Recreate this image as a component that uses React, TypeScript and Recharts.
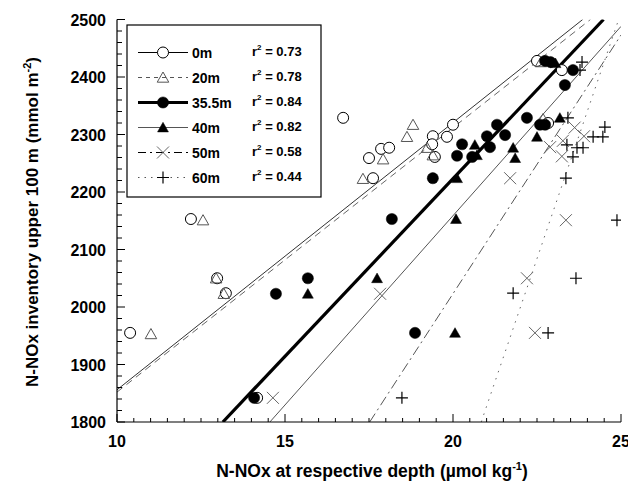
import React from 'react';
import { ComposedChart, Scatter, Line, XAxis, YAxis } from 'recharts';

const FONT = '"Liberation Sans", Arial, Helvetica, sans-serif';

type P = { x: number; y: number };

const series0m: P[] = [
  { x: 10.39, y: 1955 }, { x: 12.2, y: 2153 }, { x: 12.98, y: 2050 }, { x: 13.24, y: 2024 },
  { x: 14.17, y: 1842 }, { x: 16.73, y: 2329 }, { x: 17.5, y: 2259 }, { x: 17.62, y: 2224 },
  { x: 17.86, y: 2275 }, { x: 18.1, y: 2277 }, { x: 19.4, y: 2297 }, { x: 19.82, y: 2296 },
  { x: 20.0, y: 2317 }, { x: 19.38, y: 2283 }, { x: 19.46, y: 2261 }, { x: 22.5, y: 2428 },
  { x: 23.24, y: 2412 }, { x: 22.83, y: 2320 },
];
const series20m: P[] = [
  { x: 11.01, y: 1953 }, { x: 12.56, y: 2151 }, { x: 12.95, y: 2050 }, { x: 13.18, y: 2023 },
  { x: 17.32, y: 2223 }, { x: 17.92, y: 2257 }, { x: 18.63, y: 2296 }, { x: 18.81, y: 2317 },
  { x: 19.23, y: 2277 }, { x: 19.4, y: 2264 }, { x: 22.68, y: 2327 }, { x: 22.62, y: 2426 },
];
const series35m: P[] = [
  { x: 14.08, y: 1842 }, { x: 14.73, y: 2023 }, { x: 15.68, y: 2050 }, { x: 18.18, y: 2153 },
  { x: 18.87, y: 1955 }, { x: 19.4, y: 2224 }, { x: 20.27, y: 2283 }, { x: 20.12, y: 2263 },
  { x: 20.57, y: 2261 }, { x: 21.01, y: 2297 }, { x: 21.1, y: 2278 }, { x: 21.31, y: 2317 },
  { x: 21.55, y: 2299 }, { x: 22.2, y: 2329 }, { x: 22.59, y: 2317 }, { x: 22.74, y: 2317 },
  { x: 22.74, y: 2428 }, { x: 22.9, y: 2426 }, { x: 23.57, y: 2412 }, { x: 23.33, y: 2386 },
];
const series40m: P[] = [
  { x: 15.68, y: 2023 }, { x: 17.74, y: 2050 }, { x: 20.06, y: 1955 }, { x: 20.09, y: 2153 },
  { x: 20.12, y: 2224 }, { x: 20.65, y: 2282 }, { x: 20.71, y: 2264 }, { x: 21.79, y: 2277 },
  { x: 21.85, y: 2259 }, { x: 22.5, y: 2296 }, { x: 23.18, y: 2329 }, { x: 23.05, y: 2424 },
];
const series50m: P[] = [
  { x: 14.64, y: 1842 }, { x: 17.83, y: 2023 }, { x: 21.7, y: 2224 }, { x: 22.2, y: 2050 },
  { x: 22.44, y: 1955 }, { x: 23.36, y: 2151 }, { x: 22.89, y: 2278 }, { x: 23.27, y: 2289 },
  { x: 23.24, y: 2262 }, { x: 23.62, y: 2312 }, { x: 23.9, y: 2297 },
];
const series60m: P[] = [
  { x: 18.48, y: 1842 }, { x: 21.79, y: 2024 }, { x: 22.83, y: 1955 }, { x: 23.66, y: 2050 },
  { x: 23.36, y: 2224 }, { x: 24.88, y: 2151 }, { x: 23.42, y: 2329 }, { x: 23.39, y: 2282 },
  { x: 23.69, y: 2277 }, { x: 23.87, y: 2277 }, { x: 23.57, y: 2261 }, { x: 24.17, y: 2296 },
  { x: 24.46, y: 2296 }, { x: 24.52, y: 2313 }, { x: 23.84, y: 2426 }, { x: 23.78, y: 2412 },
];

// regression lines (end points)
const fit0m: P[] = [{ x: 10, y: 1856 }, { x: 23.86, y: 2500 }];
const fit20m: P[] = [{ x: 10, y: 1852 }, { x: 24.09, y: 2500 }];
const fit35m: P[] = [{ x: 13.15, y: 1800 }, { x: 24.48, y: 2500 }];
const fit40m: P[] = [{ x: 14.55, y: 1800 }, { x: 25, y: 2488 }];
const fit50m: P[] = [{ x: 17.52, y: 1800 }, { x: 25, y: 2473 }];
const fit60m: P[] = [{ x: 20.84, y: 1800 }, { x: 24.93, y: 2500 }];

const legendLabels = ['0m', '20m', '35.5m', '40m', '50m', '60m'];
const legendR2 = ['0.73', '0.78', '0.84', '0.82', '0.58', '0.44'];

const xMajor = [10, 15, 20, 25];
const yMajor = [1800, 1900, 2000, 2100, 2200, 2300, 2400, 2500];
const xMinorStep = 0.5;
const yMinorStep = 20;

const xAll: number[] = [];
for (let v = 10; v <= 25.0001; v += xMinorStep) xAll.push(Math.round(v * 10) / 10);
const yAll: number[] = [];
for (let v = 1800; v <= 2500; v += yMinorStep) yAll.push(v);

// ---- marker shapes ----
const triPts = (cx: number, cy: number, h: number) =>
  `${cx},${cy - h} ${cx + h * 1.05},${cy + h * 0.85} ${cx - h * 1.05},${cy + h * 0.85}`;

const OpenCircle = (p: any) =>
  p.cx == null ? <g /> : <circle cx={p.cx} cy={p.cy} r={5.5} fill="#fff" stroke="#000" strokeWidth={1} />;
const OpenTri = (p: any) =>
  p.cx == null ? <g /> : <polygon points={triPts(p.cx, p.cy, 5.5)} fill="none" stroke="#555" strokeWidth={1} />;
const FilledCircle = (p: any) =>
  p.cx == null ? <g /> : <circle cx={p.cx} cy={p.cy} r={5.6} fill="#000" stroke="#000" strokeWidth={0.5} />;
const FilledTri = (p: any) =>
  p.cx == null ? <g /> : <polygon points={triPts(p.cx, p.cy, 5.2)} fill="#000" stroke="#000" strokeWidth={0.5} />;
const Cross = (p: any) => {
  if (p.cx == null) return <g />;
  const { cx, cy } = p;
  const s = 6;
  return (
    <path d={`M${cx - s},${cy - s}L${cx + s},${cy + s}M${cx - s},${cy + s}L${cx + s},${cy - s}`} stroke="#666" strokeWidth={1} fill="none" />
  );
};
const Plus = (p: any) => {
  if (p.cx == null) return <g />;
  const { cx, cy } = p;
  const s = 6;
  return (
    <path d={`M${cx - s},${cy}L${cx + s},${cy}M${cx},${cy - s}L${cx},${cy + s}`} stroke="#000" strokeWidth={1.2} fill="none" />
  );
};

// ---- ticks ----
const BottomTick = (props: any) => {
  const { x, y, payload } = props;
  const v = payload.value;
  const major = xMajor.includes(v);
  return (
    <g>
      <line x1={x} y1={y} x2={x} y2={y - (major ? 8 : 4)} stroke="#000" strokeWidth={1} />
      {major && (
        <text x={x} y={y + 25} textAnchor="middle" fontFamily={FONT} fontWeight="bold" fontSize={16} fill="#000">
          {v}
        </text>
      )}
    </g>
  );
};
const LeftTick = (props: any) => {
  const { x, y, payload } = props;
  const v = payload.value;
  const major = yMajor.includes(v);
  return (
    <g>
      <line x1={x} y1={y} x2={x + (major ? 8 : 5)} y2={y} stroke="#000" strokeWidth={1} />
      {major && (
        <text x={x - 11} y={y + 6} textAnchor="end" fontFamily={FONT} fontWeight="bold" fontSize={16} fill="#000">
          {v}
        </text>
      )}
    </g>
  );
};
const TopTick = (props: any) => {
  const { x, y } = props;
  return <line x1={x} y1={y} x2={x} y2={y + 6} stroke="#000" strokeWidth={1} />;
};
const RightTick = (props: any) => {
  const { x, y } = props;
  return <line x1={x} y1={y} x2={x - 6} y2={y} stroke="#000" strokeWidth={1} />;
};

const W = 628;
const H = 476;

const legendStyles = [
  { stroke: '#000', width: 1, dash: undefined as string | undefined, shape: OpenCircle },
  { stroke: '#555', width: 1, dash: '4 4', shape: OpenTri },
  { stroke: '#000', width: 3, dash: undefined, shape: FilledCircle },
  { stroke: '#555', width: 1.2, dash: undefined, shape: FilledTri },
  { stroke: '#000', width: 1, dash: '8 4 2 4', shape: Cross },
  { stroke: '#555', width: 1, dash: '1.5 5', shape: Plus },
];

const Overlay = () => {
  const rowY0 = 44.5;
  const step = 25;
  return (
    <svg width={W} height={H} style={{ position: 'absolute', left: 0, top: 0, pointerEvents: 'none' }}>
      <rect x={119} y={17} width={194} height={172} fill="#fff" stroke="#000" strokeWidth={1.2} />
      {legendLabels.map((lab, i) => {
        const cy = rowY0 + i * step;
        const st = legendStyles[i];
        const Shape = st.shape;
        return (
          <g key={lab}>
            <line x1={130} y1={cy} x2={180} y2={cy} stroke={st.stroke} strokeWidth={st.width} strokeDasharray={st.dash} />
            <Shape cx={155} cy={cy} />
            <text x={184} y={cy + 5} fontFamily={FONT} fontWeight="bold" fontSize={14} fill="#000">
              {lab}
            </text>
            <text x={244} y={cy + 3} fontFamily={FONT} fontWeight="bold" fontSize={13} fill="#000">
              r
              <tspan dy={-6} fontSize={8}>2</tspan>
              <tspan dy={6}>{' = ' + legendR2[i]}</tspan>
            </text>
          </g>
        );
      })}
      <text x={364} y={469} textAnchor="middle" fontFamily={FONT} fontWeight="bold" fontSize={17.5} fill="#000">
        N-NOx at respective depth (µmol kg
        <tspan dy={-7} fontSize={11}>-1</tspan>
        <tspan dy={7}>)</tspan>
      </text>
      <text
        transform="translate(30,214) rotate(-90)"
        x={0}
        y={0}
        textAnchor="middle"
        fontFamily={FONT}
        fontWeight="bold"
        fontSize={17}
        fill="#000"
      >
        N-NOx inventory upper 100 m (mmol m
        <tspan dy={-7} fontSize={11}>-2</tspan>
        <tspan dy={7}>)</tspan>
      </text>
    </svg>
  );
};

export default function App() {
  return (
    <div style={{ position: 'relative', width: W, height: H }}>
      <ComposedChart width={W} height={H} margin={{ top: 11.5, right: 15, bottom: 0, left: 0 }}>
        <XAxis
          xAxisId="b"
          dataKey="x"
          type="number"
          domain={[10, 25]}
          ticks={xAll}
          interval={0}
          allowDataOverflow
          height={62}
          tickSize={0}
          tickMargin={0}
          tickLine={false}
          axisLine={{ stroke: '#000', strokeWidth: 1.2 }}
          tick={<BottomTick />}
        />
        <XAxis
          xAxisId="t"
          orientation="top"
          type="number"
          domain={[10, 25]}
          ticks={xMajor}
          interval={0}
          allowDataOverflow
          height={0}
          tickSize={0}
          tickMargin={0}
          tickLine={false}
          axisLine={{ stroke: '#000', strokeWidth: 1.2 }}
          tick={<TopTick />}
        />
        <YAxis
          yAxisId="l"
          dataKey="y"
          type="number"
          domain={[1800, 2500]}
          ticks={yAll}
          interval={0}
          allowDataOverflow
          width={109}
          tickSize={0}
          tickMargin={0}
          tickLine={false}
          axisLine={{ stroke: '#000', strokeWidth: 1.2 }}
          tick={<LeftTick />}
        />
        <YAxis
          yAxisId="r"
          orientation="right"
          type="number"
          domain={[1800, 2500]}
          ticks={yMajor}
          interval={0}
          allowDataOverflow
          width={0}
          tickSize={0}
          tickMargin={0}
          tickLine={false}
          axisLine={{ stroke: '#000', strokeWidth: 1.2 }}
          tick={<RightTick />}
        />
        <Line xAxisId="b" yAxisId="l" data={fit0m} dataKey="y" type="linear" stroke="#333" strokeWidth={1} dot={false} activeDot={false} isAnimationActive={false} />
        <Line xAxisId="b" yAxisId="l" data={fit20m} dataKey="y" type="linear" stroke="#666" strokeWidth={1} strokeDasharray="7 5" dot={false} activeDot={false} isAnimationActive={false} />
        <Line xAxisId="b" yAxisId="l" data={fit35m} dataKey="y" type="linear" stroke="#000" strokeWidth={3.2} dot={false} activeDot={false} isAnimationActive={false} />
        <Line xAxisId="b" yAxisId="l" data={fit40m} dataKey="y" type="linear" stroke="#555" strokeWidth={1} dot={false} activeDot={false} isAnimationActive={false} />
        <Line xAxisId="b" yAxisId="l" data={fit50m} dataKey="y" type="linear" stroke="#555" strokeWidth={1} strokeDasharray="10 4 2 4" dot={false} activeDot={false} isAnimationActive={false} />
        <Line xAxisId="b" yAxisId="l" data={fit60m} dataKey="y" type="linear" stroke="#666" strokeWidth={1} strokeDasharray="1.5 6" dot={false} activeDot={false} isAnimationActive={false} />
        <Scatter xAxisId="b" yAxisId="l" data={series0m} shape={OpenCircle} isAnimationActive={false} />
        <Scatter xAxisId="b" yAxisId="l" data={series20m} shape={OpenTri} isAnimationActive={false} />
        <Scatter xAxisId="b" yAxisId="l" data={series35m} shape={FilledCircle} isAnimationActive={false} />
        <Scatter xAxisId="b" yAxisId="l" data={series40m} shape={FilledTri} isAnimationActive={false} />
        <Scatter xAxisId="b" yAxisId="l" data={series50m} shape={Cross} isAnimationActive={false} />
        <Scatter xAxisId="b" yAxisId="l" data={series60m} shape={Plus} isAnimationActive={false} />
      </ComposedChart>
      <Overlay />
    </div>
  );
}
